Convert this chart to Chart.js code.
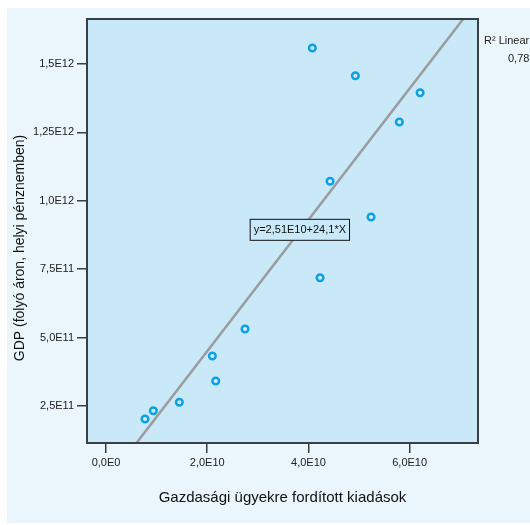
<!DOCTYPE html>
<html>
<head>
<meta charset="utf-8">
<script src="https://cdn.jsdelivr.net/npm/chart.js@4"></script>
<style>
  html, body { margin: 0; padding: 0; background: #fff; }
  #wrap { width: 530px; height: 525px; }
</style>
</head>
<body>
<div id="wrap"><canvas id="myChart" width="530" height="525"></canvas></div>
<script>
// values
const spending = [0.771e10, 0.935e10, 1.449e10, 2.101e10, 2.168e10, 2.747e10, 4.077e10,
                  4.427e10, 4.229e10, 4.927e10, 5.237e10, 5.796e10, 6.206e10];
const gdp = [0.2025e12, 0.2328e12, 0.2635e12, 0.4327e12, 0.3414e12, 0.5314e12, 1.5585e12,
             1.0713e12, 0.719e12, 1.4572e12, 0.9408e12, 1.288e12, 1.3951e12];

const xTicks = [0, 2e10, 4e10, 6e10];
const xTickLabels = ["0,0E0", "2,0E10", "4,0E10", "6,0E10"];
const yTicks = [2.5e11, 5e11, 7.5e11, 1e12, 1.25e12, 1.5e12];
const yTickLabels = ["2,5E11", "5,0E11", "7,5E11", "1,0E12", "1,25E12", "1,5E12"];

const xRange = [-0.3755e10, 7.35e10];
const yRange = [0.1148e12, 1.6645e12];

const xTitle = "Gazdasági ügyekre fordított kiadások";
const yTitle = "GDP (folyó áron, helyi pénznemben)";
const fitLabel = "y=2,51E10+24,1*X";

// least squares fit of the points
const n = spending.length;
const mx = spending.reduce((a, b) => a + b, 0) / n;
const my = gdp.reduce((a, b) => a + b, 0) / n;
let sxy = 0, sxx = 0, syy = 0;
for (let i = 0; i < n; i++) {
  sxy += (spending[i] - mx) * (gdp[i] - my);
  sxx += (spending[i] - mx) ** 2;
  syy += (gdp[i] - my) ** 2;
}
const slope = sxy / sxx;
const intercept = my - slope * mx;
const r2 = (sxy * sxy) / (sxx * syy);

const points = spending.map((x, i) => ({ x: x, y: gdp[i] }));
const fitLine = xRange.map((x) => ({ x: x, y: intercept + slope * x }));

const plain = "'Liberation Sans', Arial, sans-serif";

const decor = {
  id: "decor",
  beforeDraw(chart) {
    const c = chart.ctx;
    const a = chart.chartArea;
    c.save();
    c.fillStyle = "#eaf5fc";
    c.fillRect(7, 8, chart.width, chart.height - 10);
    c.fillStyle = "#c9e8f8";
    c.fillRect(a.left, a.top, a.right - a.left, a.bottom - a.top);
    c.restore();
  },
  afterDraw(chart) {
    const c = chart.ctx;
    const a = chart.chartArea;
    const xs = chart.scales.x, ys = chart.scales.y;
    c.save();
    c.strokeStyle = "#3a3f44";
    c.lineWidth = 2;
    c.strokeRect(a.left, a.top, a.right - a.left, a.bottom - a.top);

    // equation box
    const bx = xs.getPixelForValue(3.83e10), by = ys.getPixelForValue(0.894e12);
    c.font = "11px " + plain;
    const w = c.measureText(fitLabel).width + 8;
    c.fillStyle = "#c9e8f8";
    c.fillRect(bx - w / 2, by - 11, w, 22);
    c.lineWidth = 1;
    c.strokeStyle = "#111";
    c.strokeRect(bx - w / 2 + 0.5, by - 10.5, w - 1, 21);
    c.fillStyle = "#111";
    c.textAlign = "center";
    c.textBaseline = "middle";
    c.fillText(fitLabel, bx, by + 0.5);

    // R² text outside the plot
    c.textAlign = "left";
    c.font = "11px " + plain;
    c.fillStyle = "#222";
    c.fillText("R² Linear = " + r2.toFixed(3).replace(".", ","), a.right + 6, 41);
    c.fillText(r2.toFixed(3).replace(".", ","), a.right + 30, 59);

    // axis titles
    c.font = "15px " + plain;
    c.textAlign = "center";
    c.fillStyle = "#111";
    c.fillText(xTitle, (a.left + a.right) / 2, 498);
    c.translate(20, 248);
    c.rotate(-Math.PI / 2);
    c.font = "14px " + plain;
    c.fillText(yTitle, 0, 0);
    c.restore();
  }
};

new Chart(document.getElementById("myChart"), {
  type: "scatter",
  data: {
    datasets: [
      {
        type: "line",
        data: fitLine,
        borderColor: "#9a9c9e",
        borderWidth: 2.5,
        pointRadius: 0,
        fill: false
      },
      {
        data: points,
        pointRadius: 3.3,
        pointBorderWidth: 2.5,
        pointBackgroundColor: "#d6eefa",
        pointBorderColor: "#0ba1e4"
      }
    ]
  },
  plugins: [decor],
  options: {
    responsive: false,
    animation: false,
    layout: { padding: { left: 0, top: 19, right: 52, bottom: 0 } },
    plugins: { legend: { display: false }, tooltip: { enabled: false } },
    scales: {
      x: {
        type: "linear",
        min: xRange[0], max: xRange[1],
        afterBuildTicks: (s) => { s.ticks = xTicks.map((v) => ({ value: v })); },
        afterFit: (s) => { s.height = 82; },
        border: { display: false },
        grid: { drawOnChartArea: false, tickLength: 10, color: "#3a3f44", lineWidth: 1.5 },
        ticks: {
          padding: 3,
          color: "#222",
          font: { family: plain, size: 11 },
          callback: (v) => xTickLabels[xTicks.indexOf(v)]
        }
      },
      y: {
        type: "linear",
        min: yRange[0], max: yRange[1],
        afterBuildTicks: (s) => { s.ticks = yTicks.map((v) => ({ value: v })); },
        afterFit: (s) => { s.width = 87; },
        border: { display: false },
        grid: { drawOnChartArea: false, tickLength: 10, color: "#3a3f44", lineWidth: 1.5 },
        ticks: {
          padding: 3,
          color: "#222",
          font: { family: plain, size: 11 },
          callback: (v) => yTickLabels[yTicks.indexOf(v)]
        }
      }
    }
  }
});
</script>
</body>
</html>
